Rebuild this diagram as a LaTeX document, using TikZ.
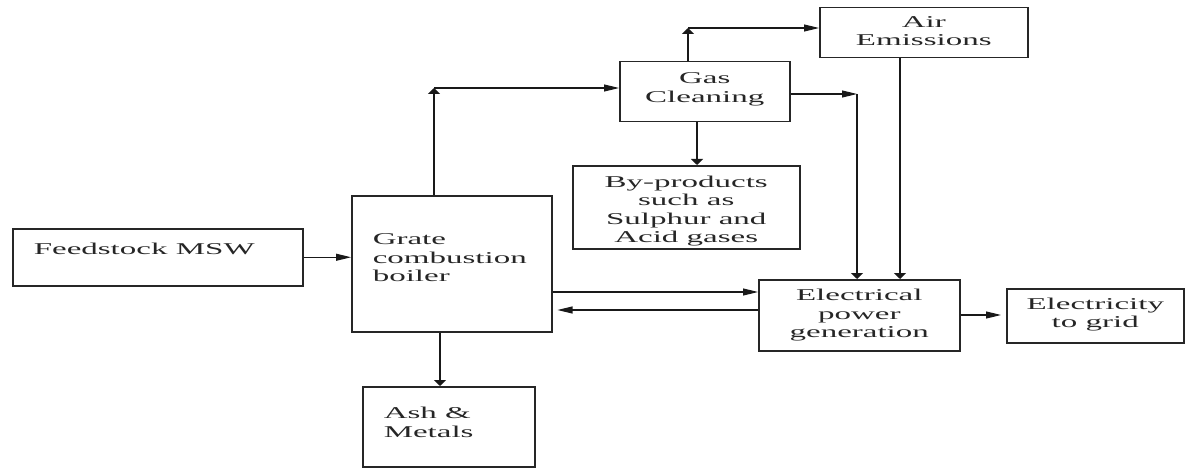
\documentclass[tikz,border=0pt]{standalone}
\usepackage{fontspec}
\setmainfont{Liberation Serif}[FakeStretch=2]
\usetikzlibrary{arrows.meta}
\newcommand{\lefttext}[4]{\parbox[t][#1][t]{#2}{\raggedright\leftskip=21pt\relax\vspace*{#3}\rule{0pt}{12pt}#4\par}}
\newcommand{\centertext}[4]{\parbox[t][#1][t]{#2}{\centering\vspace*{#3}\rule{0pt}{12pt}#4\par}}
\begin{document}
\begin{tikzpicture}[x=1pt,y=-1pt,
 blk/.style={draw=black!85, line width=1.5pt, inner sep=0pt, anchor=north west, text=black!85, font=\fontsize{16.5}{18.5}\selectfont},
 harr/.style={draw=black!90, line width=1.1pt, -{Triangle[length=15pt,width=7pt]}},
 varr/.style={draw=black!90, line width=1.8pt, -{Triangle[length=6pt,width=12pt]}}]
\useasboundingbox (0,0) rectangle (1186,468);
\fill[white] (0,0) rectangle (1186,468);
\node[blk] (feed) at (12,228) {\lefttext{57pt}{290pt}{14pt}{Feedstock MSW}};
\node[blk] (grate) at (351,195) {\lefttext{136pt}{200pt}{37pt}{Grate\\combustion\\boiler}};
\node[blk] (ash) at (362,386) {\lefttext{80pt}{172pt}{20pt}{Ash \&\\Metals}};
\node[blk] (gas) at (619,61) {\centertext{60pt}{170pt}{10pt}{Gas\\Cleaning}};
\node[blk] (air) at (819,7) {\centertext{50pt}{208pt}{7.7pt}{Air\\Emissions}};
\node[blk] (byp) at (572,165) {\centertext{83pt}{227pt}{9.7pt}{By-products\\such as\\Sulphur and\\Acid gases}};
\node[blk] (elec) at (758,279) {\centertext{71pt}{201pt}{9pt}{Electrical\\power\\generation}};
\node[blk] (grid) at (1006,288) {\centertext{54pt}{177pt}{8.3pt}{Electricity\\to grid}};
\coordinate (j1) at (434,88);
\coordinate (j2) at (688,28);
\coordinate (j3) at (697,140);
\coordinate (j4) at (857,94);
\coordinate (j5) at (900,150);
\coordinate (j6) at (0,292);
\coordinate (j7) at (0,310);
\coordinate (j8) at (0,315);
\coordinate (j9) at (440,350);
\draw[harr] (feed.east) -- (feed.east -| grate.west);
\draw[varr] (grate.north -| j1) -- (j1);
\draw[harr] (j1) -- (j1 -| gas.west);
\draw[varr] (gas.north -| j2) -- (j2);
\draw[harr] (j2) -- (j2 -| air.west);
\draw[varr] (gas.south -| j3) -- (byp.north -| j3);
\draw[harr] (gas.east |- j4) -- (j4);
\draw[varr] (j4) -- (j4 |- elec.north);
\draw[varr] (air.south -| j5) -- (elec.north -| j5);
\draw[harr] (grate.east |- j6) -- (elec.west |- j6);
\draw[harr, shorten >=5pt] (elec.west |- j7) -- (grate.east |- j7);
\draw[harr, shorten >=5pt] (elec.east |- j8) -- (grid.west |- j8);
\draw[varr] (grate.south -| j9) -- (ash.north -| j9);
\end{tikzpicture}
\end{document}
